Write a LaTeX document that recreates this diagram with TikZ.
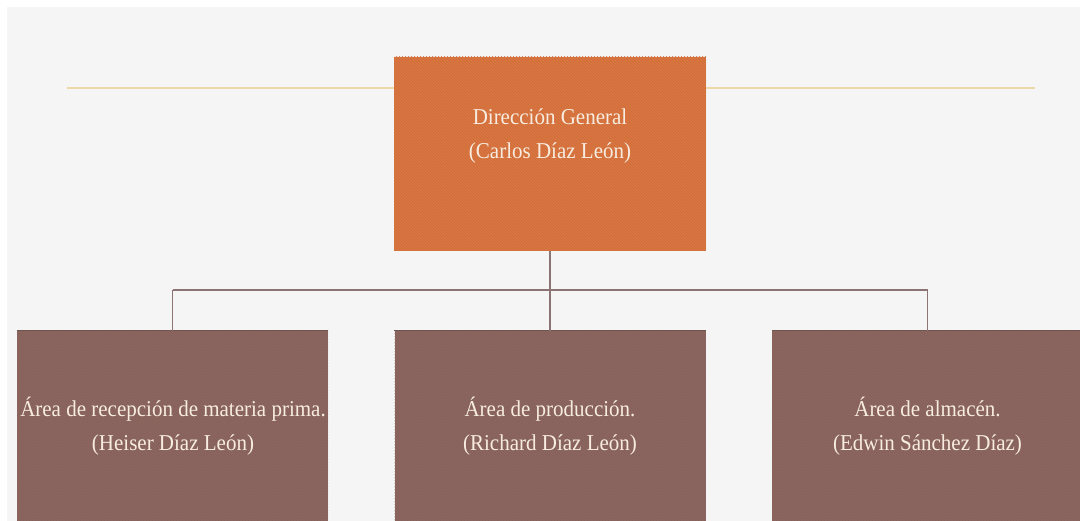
\documentclass[tikz,border=0pt]{standalone}
\usepackage{fontspec}
\setmainfont{Liberation Serif}
\usetikzlibrary{patterns}
\definecolor{bgc}{HTML}{F5F5F5}
\definecolor{orangebox}{HTML}{DA7641}
\definecolor{orangestripe}{HTML}{CF6D3A}
\definecolor{brownbox}{HTML}{8D675F}
\definecolor{brownstripe}{HTML}{83605A}
\definecolor{brownedge}{HTML}{6F5550}
\definecolor{linkc}{HTML}{8C7474}
\definecolor{topline}{HTML}{EFD8A8}
\definecolor{txtc}{HTML}{F7ECDF}
\newcommand{\boxlines}[2]{\scalebox{1}[1.08]{\begin{tabular}[t]{@{}c@{}}#1\\#2\end{tabular}}}
\begin{document}
\begin{tikzpicture}[x=1pt,y=-1pt,
  topbox/.style={rectangle, inner sep=0pt, minimum width=312pt, minimum height=194pt,
    fill=orangebox, postaction={pattern=north west lines, pattern color=orangestripe}},
  areabox/.style={rectangle, inner sep=0pt, minimum width=311pt, minimum height=194pt,
    fill=brownbox, postaction={pattern=north west lines, pattern color=brownstripe}},
  boxtext/.style={anchor=base, inner sep=0pt, text=txtc, font=\fontsize{21}{30.6}\selectfont},
  link/.style={draw=linkc, line width=1.3pt},
  deco/.style={draw=topline, line width=2.6pt}
]
\useasboundingbox (0,0) rectangle (1080,521);
\fill[white] (0,0) rectangle (1080,521);
\fill[bgc] (7,7) rectangle (1080,521);

% decorative line
\coordinate (dl) at (67,88);
\coordinate (dr) at (1035,88);

% boxes
\node[topbox] (dg) at (550,154) {};
\node[areabox] (a1) at (172.5,428) {};
\node[areabox] (a2) at (550,428) {};
\node[areabox] (a3) at (927.5,428) {};
\draw[brownedge, line width=1pt] (a1.north west) -- (a1.north east);
\draw[brownedge, line width=1pt] (a2.north west) -- (a2.north east);
\draw[brownedge, line width=1pt] (a3.north west) -- (a3.north east);

\draw[deco] (dl) -- (dl -| dg.west);
\draw[deco] (dg.east |- dr) -- (dr);

% connectors
\coordinate (bus) at (550,290);
\draw[link] (dg.south) -- (dg.south |- bus);
\draw[link] (a1.north |- bus) -- (a3.north |- bus);
\draw[link] (a1.north |- bus) -- (a1.north);
\draw[link] (a2.north |- bus) -- (a2.north);
\draw[link] (a3.north |- bus) -- (a3.north);

% texts
\node[boxtext] (t0) at (550,125) {\boxlines{Dirección General}{(Carlos Díaz León)}};
\node[boxtext] (t1) at (173,417) {\boxlines{Área de recepción de materia prima.}{(Heiser Díaz León)}};
\node[boxtext] (t2) at (550,417) {\boxlines{Área de producción.}{(Richard Díaz León)}};
\node[boxtext] (t3) at (927.5,417) {\boxlines{Área de almacén.}{(Edwin Sánchez Díaz)}};
\end{tikzpicture}
\end{document}
